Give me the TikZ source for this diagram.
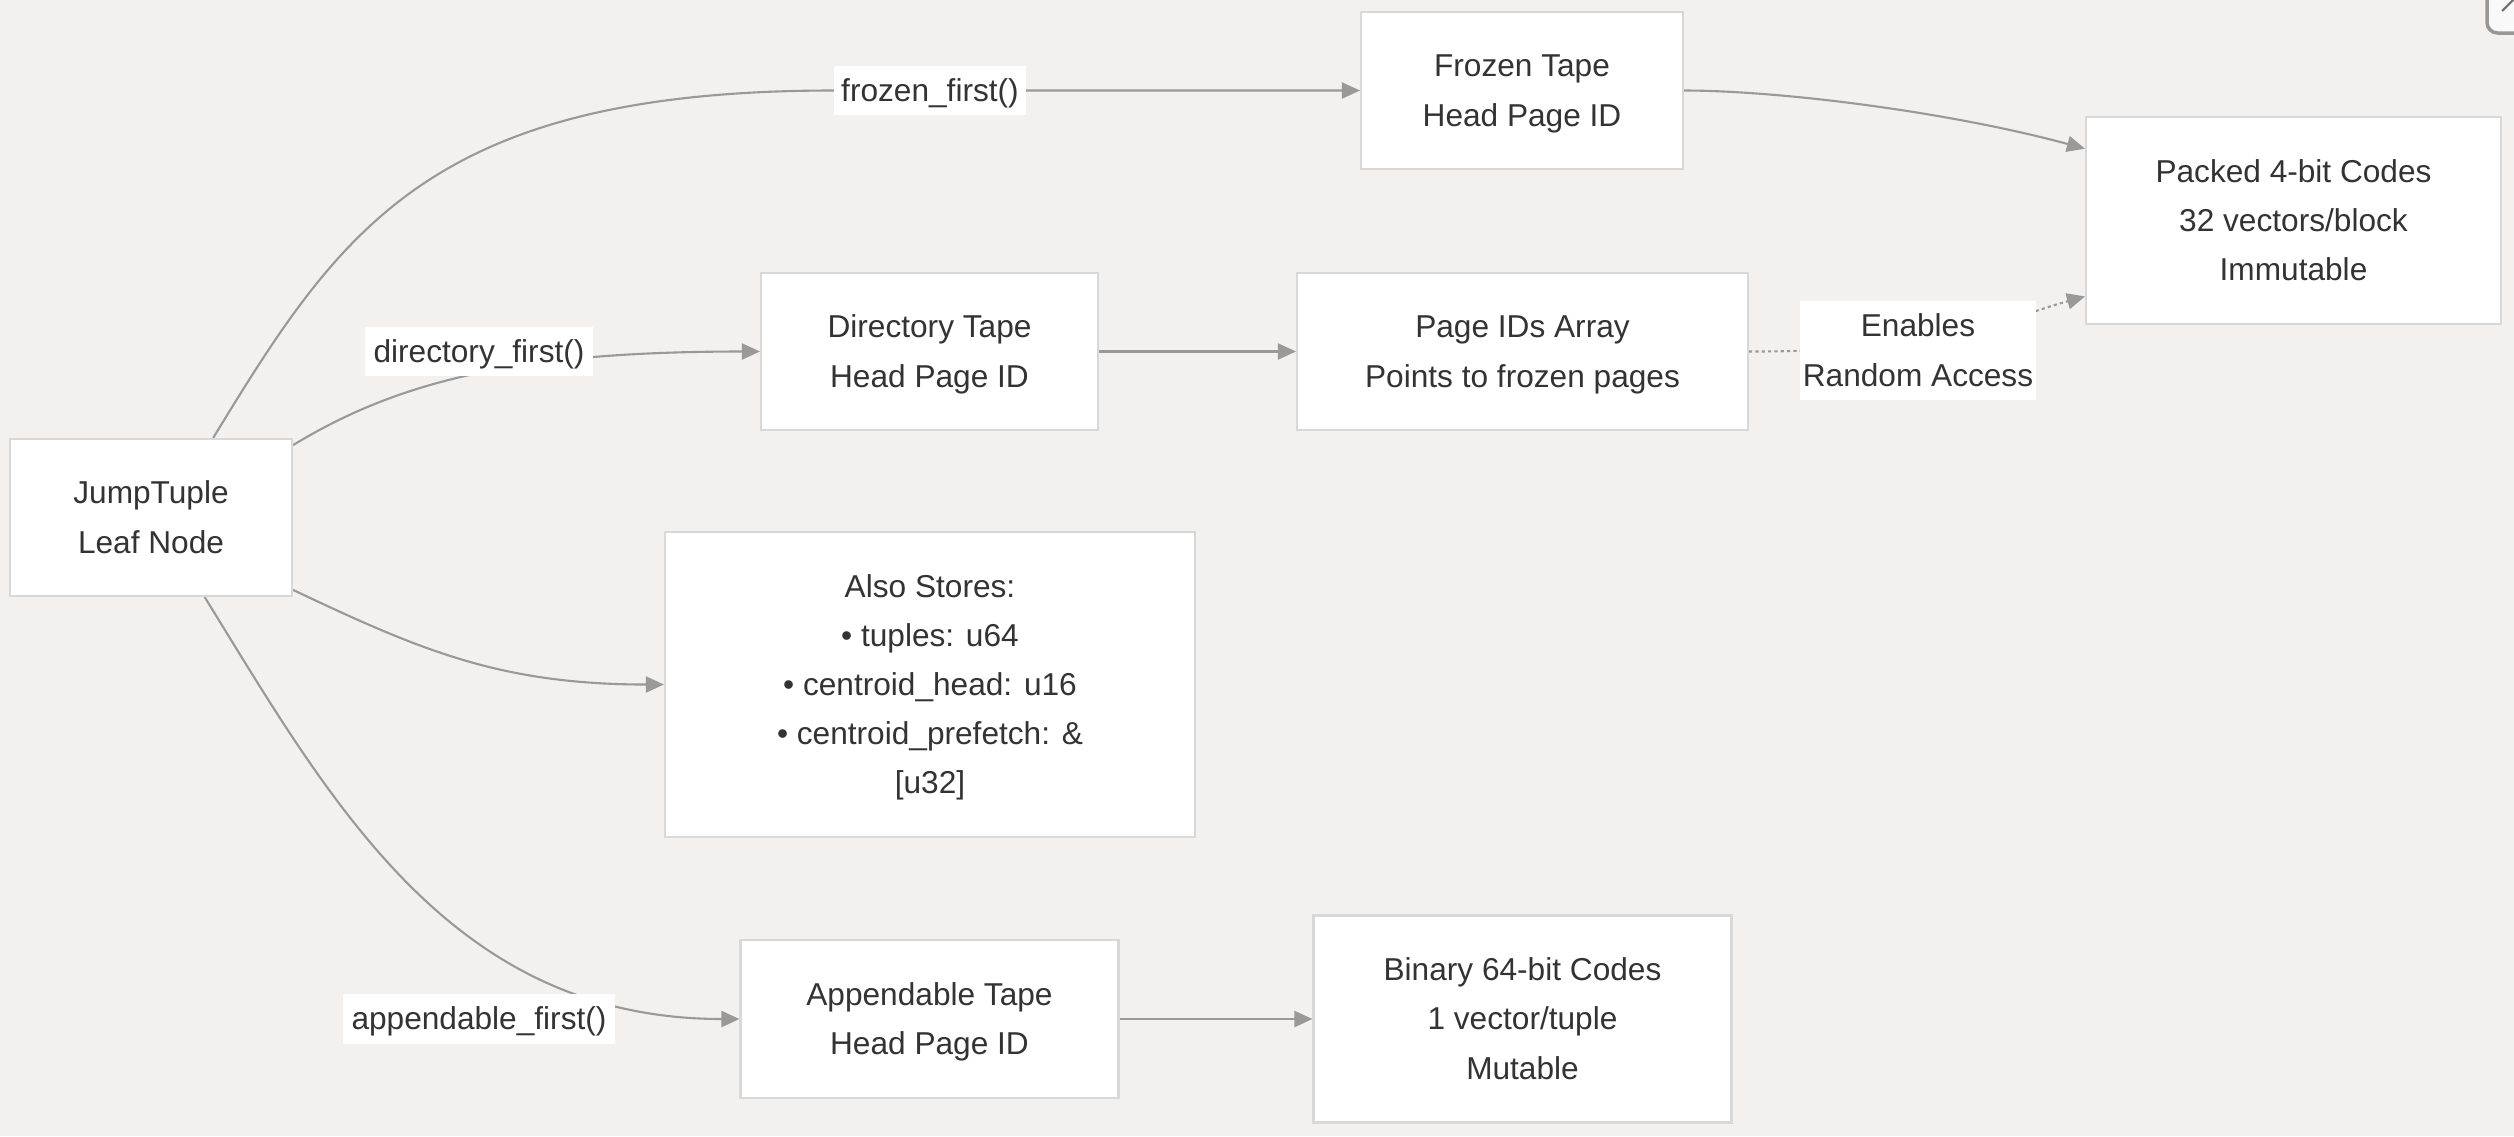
\documentclass[tikz,border=0pt]{standalone}
\usepackage{fontspec}
\setmainfont{Liberation Sans}
\usetikzlibrary{arrows.meta}

\definecolor{bgc}{RGB}{242,241,239}
\definecolor{boxline}{RGB}{216,216,216}
\definecolor{edgec}{RGB}{153,153,153}
\definecolor{txt}{RGB}{51,51,51}

% one line box of the html layout
\newcommand{\ls}{\rule[-3.9pt]{0pt}{14pt}}

\pgfdeclarelayer{back}
\pgfsetlayers{back,main}

\tikzset{
  box/.style={draw=boxline, line width=0.6pt, fill=white, align=center, inner sep=0pt, text=txt,
    execute at end node=\ls},
  lbl/.style={fill=white, align=center, inner sep=0pt, text=txt, minimum height=0.49cm,
    execute at end node=\ls},
  edge/.style={draw=edgec, line width=0.6pt, -{Triangle[length=0.18cm,width=0.16cm]}},
  dotedge/.style={edge, dash pattern=on 0.9pt off 0.9pt}
}

\begin{document}
\begin{tikzpicture}[font=\fontsize{9}{14}\selectfont]

\begin{pgfonlayer}{back}
\fill[bgc] (0,0) rectangle (25.14,-11.36);
\end{pgfonlayer}
\useasboundingbox (0,0) rectangle (25.14,-11.36);

% boxes
\node[box, minimum width=2.82cm, minimum height=1.57cm] (jump) at (1.51,-5.175) {\ls JumpTuple\\Leaf Node};
\node[box, minimum width=3.22cm, minimum height=1.57cm] (frozen) at (15.22,-0.905) {\ls Frozen Tape\\Head Page ID};
\node[box, minimum width=3.37cm, minimum height=1.57cm] (dir) at (9.295,-3.515) {\ls Directory Tape\\Head Page ID};
\node[box, minimum width=4.51cm, minimum height=1.57cm] (pages) at (15.225,-3.515) {\ls Page IDs Array\\Points to frozen pages};
\node[box, minimum width=4.15cm, minimum height=2.07cm] (packed) at (22.935,-2.205) {\ls Packed 4-bit Codes\\32 vectors/block\\Immutable};
\node[box, minimum width=5.30cm, minimum height=3.05cm] (also) at (9.30,-6.845) {\ls Also Stores:\\• tuples: u64\\• centroid\_head: u16\\• centroid\_prefetch: \&\\{[u32]}};
\node[box, minimum width=3.78cm, minimum height=1.58cm] (app) at (9.295,-10.19) {\ls Appendable Tape\\Head Page ID};
\node[box, minimum width=4.18cm, minimum height=2.07cm] (bin) at (15.225,-10.19) {\ls Binary 64-bit Codes\\1 vector/tuple\\Mutable};

% edge labels
\node[lbl, minimum width=1.92cm] (frzlbl) at (9.30,-0.905) {frozen\_first()};
\node[lbl, minimum width=2.28cm] (dirlbl) at (4.79,-3.515) {directory\_first()};
\node[lbl, minimum width=2.72cm] (applbl) at (4.79,-10.19) {appendable\_first()};
\node[lbl, minimum width=2.36cm, minimum height=0.97cm] (enlbl) at (19.18,-3.505) {\ls Enables\\Random Access};

\begin{pgfonlayer}{back}
\draw[edge] (jump.52) .. controls (3.40,-2.30) and (4.30,-0.905) .. (frzlbl.west) -- (frozen.west);
\draw[edge] (jump.27) .. controls (4.00,-3.80) and (5.20,-3.515) .. (dir.west);
\draw[edge] (jump.-27) .. controls (4.20,-6.50) and (5.00,-6.845) .. (also.west);
\draw[edge] (jump.-56) .. controls (3.30,-8.00) and (4.50,-10.19) .. (app.west);
\draw[edge] (dir.east) -- (pages.west);
\draw[dotedge] (pages.east) .. controls (19.5,-3.515) and (20.0,-3.20) .. (packed.-160);
\draw[edge] (frozen.east) .. controls (17.80,-0.905) and (19.50,-1.12) .. (packed.161);
\draw[edge] (app.east) -- (bin.west);
\end{pgfonlayer}

% corner button
\draw[boxline!70!black, line width=1pt, fill=white!60!bgc, rounded corners=3pt] (24.87,0.3) rectangle (25.5,-0.33);
\draw[txt!70, line width=0.6pt] (25.02,-0.11) -- (25.14,0.01);

\end{tikzpicture}
\end{document}
